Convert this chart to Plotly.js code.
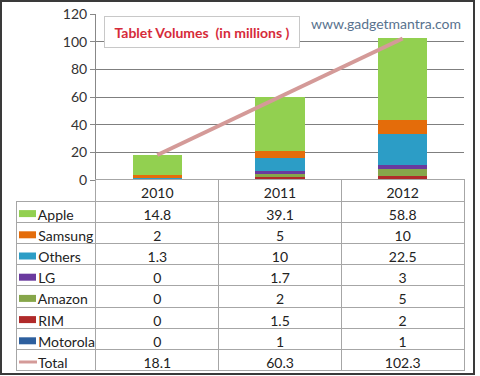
<!DOCTYPE html>
<html><head><meta charset="utf-8">
<script src="https://cdn.plot.ly/plotly-3.0.1.min.js"></script>
<style>html,body{margin:0;padding:0;background:#fff;}#chart{width:480px;height:376px;}</style>
</head><body><div id="chart"></div>
<script>
// ---- data ----
const years = ['2010', '2011', '2012'];
const apple = [14.8, 39.1, 58.8];
const samsung = [2, 5, 10];
const others = [1.3, 10, 22.5];
const lg = [0, 1.7, 3];
const amazon = [0, 2, 5];
const rim = [0, 1.5, 2];
const motorola = [0, 1, 1];
const total = [18.1, 60.3, 102.3];
const seriesNames = ['Apple', 'Samsung', 'Others', 'LG', 'Amazon', 'RIM', 'Motorola'];
const yTicks = [0, 20, 40, 60, 80, 100, 120];

// ---- styling ----
const W = 480, H = 376;
const colors = {Apple:'#92D050', Samsung:'#E46C0A', Others:'#2C9DC6', LG:'#6A3A9E', Amazon:'#86A64A', RIM:'#B02A2A', Motorola:'#2D5F9E'};
const seriesVals = {Apple:apple, Samsung:samsung, Others:others, LG:lg, Amazon:amazon, RIM:rim, Motorola:motorola};
const px = v => v / W;
const py = v => 1 - v / H;
const font = 'Lato, "Open Sans", sans-serif';

const traces = [];
// stack bottom-up: Motorola first, Apple last
seriesNames.slice().reverse().forEach(n => {
  traces.push({type:'bar', name:n, x:years, y:seriesVals[n], marker:{color:colors[n], line:{width:0}},
    showlegend:false, hoverinfo:'skip', xaxis:'x', yaxis:'y'});
});
traces.push({type:'scatter', mode:'lines', name:'Total', x:years, y:total,
  line:{color:'#D49A98', width:4}, showlegend:false, hoverinfo:'skip'});

// data table
const rowNames = seriesNames.concat(['Total']);
const nb = '\u00a0\u00a0\u00a0\u00a0';
const col0 = rowNames.map(n => nb + n);
const yearCols = years.map((y, i) => seriesNames.map(n => seriesVals[n][i]).concat([total[i]]));
const tableTop = 180, headerH = 22, rowH = 21.2;
const clear = 'rgba(0,0,0,0)';
traces.push({
  type:'table',
  domain:{x:[px(16), px(464)], y:[py(374), py(tableTop - 1)]},
  columnwidth:[80, 122.7, 122.7, 122.7],
  header:{values:[''].concat(years), height:headerH, align:['left','center','center','center'],
    fill:{color:[clear,'#ffffff','#ffffff','#ffffff']}, line:{color:[clear,'#A6A6A6','#A6A6A6','#A6A6A6'], width:1},
    font:{family:font, size:14, color:'#222'}},
  cells:{values:[col0].concat(yearCols), height:rowH, align:['left','center','center','center'],
    fill:{color:'#ffffff'}, line:{color:'#A6A6A6', width:1},
    font:{family:font, size:14, color:'#222'}}
});

// legend swatches in table first column
const shapes = [];
rowNames.forEach((n, i) => {
  const cy = tableTop + headerH + rowH * i + rowH / 2 + 1;
  if (n === 'Total') {
    shapes.push({type:'line', xref:'paper', yref:'paper', x0:px(19), x1:px(37), y0:py(cy), y1:py(cy),
      line:{color:'#D49A98', width:3}});
  } else {
    shapes.push({type:'rect', xref:'paper', yref:'paper', x0:px(19), x1:px(36), y0:py(cy+3.5), y1:py(cy-3.5),
      fillcolor:colors[n], line:{width:0}});
  }
});
// outer frame
shapes.push({type:'rect', xref:'paper', yref:'paper', x0:px(1), x1:px(474), y0:py(374), y1:py(1),
  line:{color:'#3A3A3A', width:2}, fillcolor:'rgba(0,0,0,0)', layer:'above'});

const layout = {
  width:W, height:H, margin:{l:0, r:0, t:0, b:0},
  paper_bgcolor:'#ffffff', plot_bgcolor:'#ffffff',
  barmode:'stack', bargap:0.6, showlegend:false,
  font:{family:font, color:'#333'},
  xaxis:{domain:[px(96), px(464)], type:'category', showticklabels:false, ticks:'',
    showline:true, linecolor:'#888', linewidth:1, showgrid:false, zeroline:false, fixedrange:true},
  yaxis:{domain:[py(180), py(14)], range:[0, 120], tickvals:yTicks, ticks:'outside', ticklen:5,
    tickcolor:'#888', showline:true, linecolor:'#888', linewidth:1, gridcolor:'#7F7F7F', gridwidth:1,
    zeroline:false, tickfont:{family:font, size:14, color:'#333'}, fixedrange:true},
  shapes:shapes,
  annotations:[
    {xref:'paper', yref:'paper', x:px(202), y:py(32), xanchor:'center', yanchor:'middle', showarrow:false,
      text:'<b>Tablet Volumes  (in millions )</b>', font:{family:font, size:14, color:'#D62B3A'},
      bgcolor:'#ffffff', bordercolor:'#C8C8C8', borderwidth:1, width:192, height:28},
    {xref:'paper', yref:'paper', x:px(386), y:py(24), xanchor:'center', yanchor:'middle', showarrow:false,
      text:'www.gadgetmantra.com', font:{family:font, size:14, color:'#58728E'}}
  ]
};
Plotly.newPlot('chart', traces, layout, {staticPlot:true});
</script></body></html>
